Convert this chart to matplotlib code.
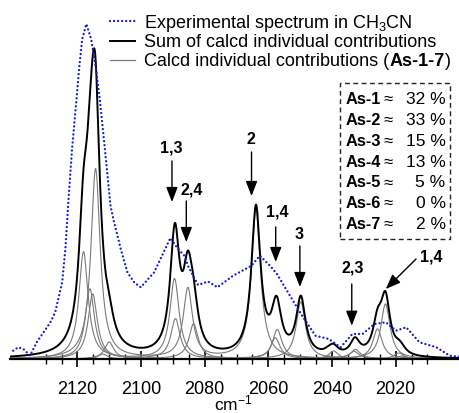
import numpy as np
import matplotlib
matplotlib.use("Agg")
import matplotlib.pyplot as plt
from matplotlib.lines import Line2D
from matplotlib.patches import Rectangle
from matplotlib.text import Annotation
from matplotlib.ticker import FixedLocator

plt.rcParams["font.family"] = ["Liberation Sans", "DejaVu Sans"]
plt.rcParams["mathtext.fontset"] = "custom"
plt.rcParams["mathtext.rm"] = "Liberation Sans"
plt.rcParams["mathtext.it"] = "Liberation Sans:italic"
plt.rcParams["mathtext.bf"] = "Liberation Sans:bold"

# Experimental IR spectrum in CH3CN (wavenumber in cm-1, absorbance in a.u.)
exp_wn = [2140.2, 2138.6, 2137.0, 2134.9, 2132.8, 2128.5, 2127.0, 2124.8, 2123.8,
          2122.8, 2121.7, 2120.3, 2119.4, 2118.5, 2117.2, 2115.7, 2114.3, 2113.0,
          2111.7, 2109.6, 2108.5, 2106.4, 2104.3, 2102.2, 2100.1, 2095.9, 2090.8,
          2088.4, 2086.4, 2085.3, 2082.1, 2079.0, 2076.0, 2071.1, 2065.3, 2062.7,
          2059.5, 2057.3, 2052.6, 2049.4, 2045.2, 2041.0, 2037.3, 2033.6, 2030.4,
          2026.7, 2023.1, 2019.9, 2016.7, 2012.5, 2007.2, 2003.0, 1999.1]
exp_abs = [0.083, 0.117, 0.100, 0.033, 0.167, 0.367, 0.467, 0.767, 1.10,
           1.60, 2.10, 2.60, 2.93, 3.20, 3.35, 3.20, 2.93, 2.60,
           2.20, 1.53, 1.37, 1.10, 0.867, 0.767, 0.717, 0.867, 1.21,
           1.10, 1.033, 0.933, 0.74, 0.775, 0.717, 0.833, 0.933, 1.033,
           0.933, 0.85, 0.60, 0.433, 0.233, 0.20, 0.117, 0.25, 0.25,
           0.35, 0.367, 0.283, 0.317, 0.167, 0.117, 0.033, 0.02]

# Calculated CN-stretch bands of each isomer, weighted by population
as1_wn = [2118.1, 2089.5, 2057.2, 2023.2]
as1_int = [1.07, 0.80, 0.29, 0.55]
as2_wn = [2114.3, 2085.3, 2063.9, 2032.6]
as2_int = [1.90, 0.70, 1.48, 0.09]
as3_wn = [2116.1, 2089.2, 2049.8, 2033.0]
as3_int = [0.70, 0.40, 0.57, 0.07]
as4_wn = [2115.2, 2083.5, 2057.8, 2025.7]
as4_int = [0.65, 0.35, 0.21, 0.30]
as5_wn = [2110.0, 2039.5, 2019.0]
as5_int = [0.17, 0.08, 0.06]
as6_wn = []
as6_int = []
as7_wn = [2112.0, 2041.0, 2018.0]
as7_int = [0.05, 0.03, 0.03]
hwhm = 1.75

isomers = ["As-1", "As-2", "As-3", "As-4", "As-5", "As-6", "As-7"]
populations = [32, 33, 15, 13, 5, 0, 2]

# Peak assignments marked with arrows
peak_labels = ["1,3", "2,4", "2", "1,4", "3", "2,3", "1,4"]

W, H = 459, 414
fig = plt.figure(figsize=(W / 100, H / 100), dpi=100)


def fx(x):
    return x / W


def fy(y):
    return 1 - y / H


ax = fig.add_axes([fx(10), 54 / H, (W - 10) / W, 360 / H])
ax.set_xlim(2141.2, 2000.1)
ax.set_ylim(0, 3.6)

grid = np.linspace(1995, 2145, 3000)


def lorentz(centres, heights):
    y = np.zeros_like(grid)
    for c, h in zip(centres, heights):
        y += h / (1 + ((grid - c) / hwhm) ** 2)
    return y


bands = [(as1_wn, as1_int), (as2_wn, as2_int), (as3_wn, as3_int),
         (as4_wn, as4_int), (as5_wn, as5_int), (as6_wn, as6_int),
         (as7_wn, as7_int)]
curves = [lorentz(c, h) for c, h in bands]
total = np.sum(curves, axis=0)

for c in curves:
    ax.plot(grid, c, color="#7a7a7a", lw=0.8, zorder=2)
ax.plot(grid, total, color="black", lw=1.4, zorder=3)
ax.plot(exp_wn, exp_abs, color="#1a1ad0", lw=1.7,
        linestyle=(0, (0.01, 1.7)), dash_capstyle="round", zorder=4)

# axis styling
for s in ["left", "right", "top"]:
    ax.spines[s].set_visible(False)
ax.spines["bottom"].set_linewidth(1.6)
ax.set_yticks([])
ax.xaxis.set_major_locator(FixedLocator([2120, 2100, 2080, 2060, 2040, 2020]))
ax.xaxis.set_minor_locator(FixedLocator(list(range(2010, 2131, 5))))
ax.tick_params(axis="x", which="major", direction="inout", length=12, width=1.2,
               labelsize=13, pad=9)
ax.tick_params(axis="x", which="minor", direction="inout", length=7, width=1.0)
fig.text(fx(233), fy(410), "cm$^{-1}$", ha="center", va="baseline", fontsize=12.5)

# arrows with assignment labels: (text x, text y, tail x, tail y, tip x, tip y)
arrow_geom = [
    (2090.6, 2.12, 2090.3, 1.98, 2090.3, 1.57),
    (2084.2, 1.70, 2085.8, 1.58, 2085.8, 1.17),
    (2065.6, 2.20, 2065.3, 2.07, 2065.3, 1.63),
    (2057.3, 1.48, 2057.7, 1.32, 2057.7, 0.97),
    (2050.4, 1.25, 2050.1, 1.13, 2050.1, 0.72),
    (2033.6, 0.917, 2033.8, 0.75, 2033.8, 0.333),
    (2008.9, 1.033, 2013.6, 1.00, 2023.1, 0.70),
]
for lab, (tx, ty, ax0, ay0, ax1, ay1) in zip(peak_labels, arrow_geom):
    ax.text(tx, ty, lab, ha="center", va="center", fontsize=11.5,
            fontweight="bold", zorder=6)
    ax.annotate("", xy=(ax1, ay1), xytext=(ax0, ay0),
                arrowprops=dict(arrowstyle="-|>,head_length=0.9,head_width=0.35",
                                color="black", lw=1.0, shrinkA=0, shrinkB=0),
                zorder=6)

# legend drawn by hand
leg_y = [22, 41.5, 61]
leg_base = [28.3, 47.3, 66.5]
fs_leg = 13
fig.add_artist(Line2D([fx(110), fx(135)], [fy(leg_y[0])] * 2, color="#1a1ad0",
                      lw=1.7, linestyle=(0, (0.01, 1.7)), dash_capstyle="round"))
fig.add_artist(Line2D([fx(110), fx(135)], [fy(leg_y[1])] * 2, color="black", lw=1.4))
fig.add_artist(Line2D([fx(110), fx(135)], [fy(leg_y[2])] * 2, color="#7a7a7a", lw=0.9))
fig.text(fx(144), fy(leg_base[0]), "Experimental spectrum in CH$_3$CN",
         va="baseline", fontsize=fs_leg)
fig.text(fx(144), fy(leg_base[1]), "Sum of calcd individual contributions",
         va="baseline", fontsize=fs_leg)
t1 = fig.text(fx(144), fy(leg_base[2]), "Calcd individual contributions (",
              va="baseline", fontsize=fs_leg)
t2 = fig.add_artist(Annotation("As-1-7", xy=(1, 0), xycoords=t1,
                               va="bottom", ha="left",
                               fontsize=fs_leg, fontweight="bold"))
fig.add_artist(Annotation(")", xy=(1, 0), xycoords=t2,
                          va="bottom", ha="left", fontsize=fs_leg))

# population box
fig.add_artist(Rectangle((fx(339.5), fy(239.5)), (449.5 - 339.5) / W, (239.5 - 83.5) / H,
                         transform=fig.transFigure, fill=False, edgecolor="#222222",
                         lw=1.0, linestyle=(0, (3.5, 2.5))))
for i, (name, pop) in enumerate(zip(isomers, populations)):
    yb = fy(104.3 + 20.8 * i)
    fig.text(fx(345.5), yb, name, va="baseline", ha="left", fontsize=11.8,
             fontweight="bold")
    fig.text(fx(388.5), yb, "\u2248", va="baseline", ha="center", fontsize=12)
    fig.text(fx(445.5), yb, f"{pop} %", va="baseline", ha="right", fontsize=12.5)

fig.savefig("out.png", dpi=100)
